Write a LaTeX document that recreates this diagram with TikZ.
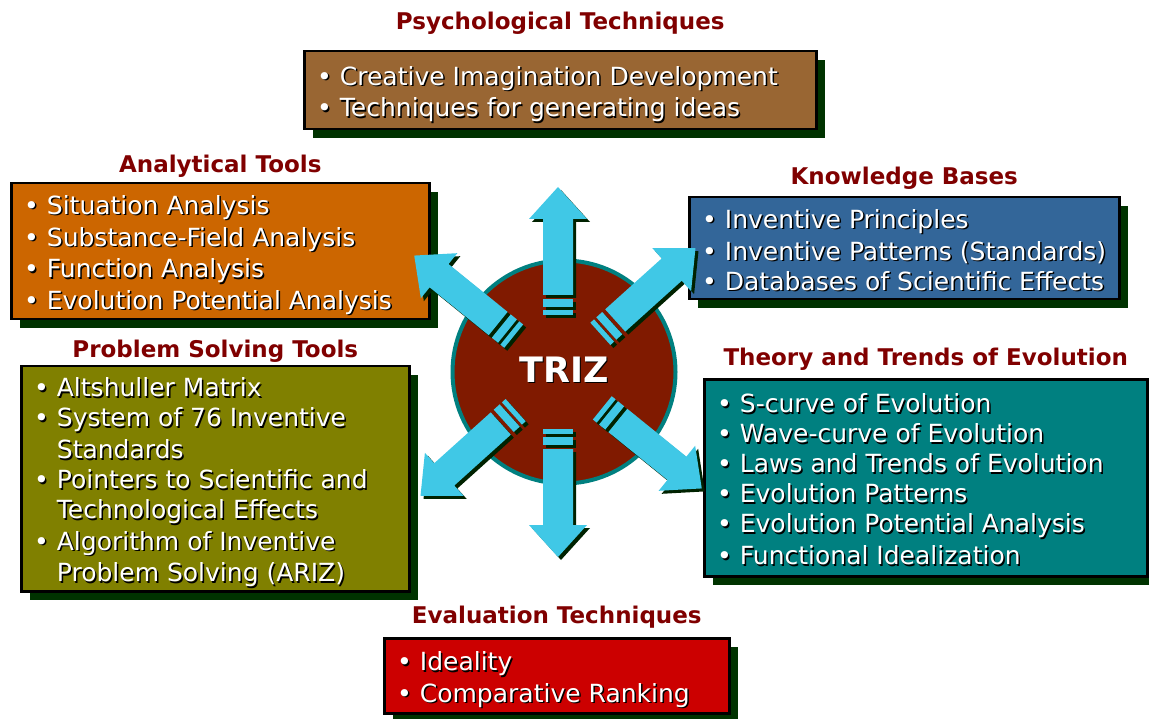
\documentclass[tikz,border=0pt]{standalone}
\usepackage{fontspec}
\setmainfont{DejaVu Sans}
\usetikzlibrary{positioning}
\usetikzlibrary{shadows}

\definecolor{titlered}{HTML}{800000}
\definecolor{boxshadow}{HTML}{003300}
\definecolor{psybrown}{HTML}{996633}
\definecolor{anaorange}{HTML}{CC6600}
\definecolor{knoblue}{HTML}{336699}
\definecolor{proolive}{HTML}{808000}
\definecolor{evoteal}{HTML}{008080}
\definecolor{evared}{HTML}{CC0000}
\definecolor{trizred}{HTML}{801A00}
\definecolor{arrcyan}{HTML}{40C8E6}
\definecolor{arrshadow}{HTML}{002200}

\newcommand{\shd}[1]{\rlap{\kern1.5pt\raisebox{-1.5pt}{\color{black}#1}}#1}
\newcommand{\bigshd}[1]{\rlap{\kern1.5pt\raisebox{-1.5pt}{\color{black}#1}}#1}
\newcommand{\lnstrut}{\rule[-6pt]{0pt}{30pt}}
\newcommand{\li}[1]{\lnstrut\shd{\textbullet\ #1}}
\newcommand{\lj}[1]{\lnstrut\hphantom{\textbullet\ }\shd{#1}}

\tikzset{
  panel/.style={draw=black, line width=2.5pt, anchor=north west, inner sep=0pt,
    drop shadow={shadow xshift=9pt, shadow yshift=-9pt, fill=boxshadow, opacity=1}},
  items/.style={text=white, align=left, inner sep=0pt, yshift=-2pt,
    font=\fontsize{25}{30}\selectfont},
  heading/.style={text=titlered, inner sep=0pt, font=\bfseries\fontsize{23}{28}\selectfont},
  hubcircle/.style={circle, fill=trizred, draw=evoteal, line width=4pt, minimum size=223pt,
    inner sep=0pt, text=white, font=\bfseries\fontsize{35}{40}\selectfont},
  pics/trizarrow/.style={code={
    \fill[#1] (57,-15) rectangle (62,15);
    \fill[#1] (65,-15) rectangle (73,15);
    \fill[#1] (77,-15) -- (153,-15) -- (153,-29) -- (185,0) -- (153,29) -- (153,15) -- (77,15) -- cycle;
  }}
}

\begin{document}
\begin{tikzpicture}[x=1pt, y=1pt]
        \useasboundingbox[fill=white] (0,0) rectangle (1149,-719);
        % Define boxes
        \node[panel, fill=psybrown, minimum width=512, minimum height=78] (psybox) at (303,-50) {};
        \node[panel, fill=anaorange, minimum width=418, minimum height=136] (anabox) at (10,-182) {};
        \node[panel, fill=knoblue, minimum width=430, minimum height=102] (knobox) at (688,-196) {};
        \node[panel, fill=proolive, minimum width=388, minimum height=225] (probox) at (20,-365) {};
        \node[panel, fill=evoteal, minimum width=443, minimum height=197] (evobox) at (703,-378) {};
        \node[panel, fill=evared, minimum width=345, minimum height=75] (evabox) at (383,-637) {};
        % Box contents
        \node[items, right=14pt of psybox.west] (psyitems) {\li{Creative Imagination Development}\\
          \li{Techniques for generating ideas}};
        \node[items, right=14pt of anabox.west] (anaitems) {\li{Situation Analysis}\\
          \li{Substance-Field Analysis}\\ \li{Function Analysis}\\
          \li{Evolution Potential Analysis}};
        \node[items, right=14pt of knobox.west] (knoitems) {\li{Inventive Principles}\\
          \li{Inventive Patterns (Standards)}\\ \li{Databases of Scientific Effects}};
        \node[items, right=14pt of probox.west] (proitems) {\li{Altshuller Matrix}\\
          \li{System of 76 Inventive}\\ \lj{Standards}\\
          \li{Pointers to Scientific and}\\ \lj{Technological Effects}\\
          \li{Algorithm of Inventive}\\ \lj{Problem Solving (ARIZ)}};
        \node[items, right=14pt of evobox.west] (evoitems) {\li{S-curve of Evolution}\\
          \li{Wave-curve of Evolution}\\ \li{Laws and Trends of Evolution}\\
          \li{Evolution Patterns}\\ \li{Evolution Potential Analysis}\\
          \li{Functional Idealization}};
        \node[items, right=14pt of evabox.west] (evaitems) {\li{Ideality}\\
          \li{Comparative Ranking}};
        % Headings
        \node[heading, above=15pt of psybox.north] (psytitle) {Psychological Techniques};
        \node[heading, above=4pt of anabox.north] (anatitle) {Analytical Tools};
        \node[heading, above=6pt of knobox.north] (knotitle) {Knowledge Bases};
        \node[heading, above=2pt of probox.north] (protitle) {Problem Solving Tools};
        \node[heading, above=7pt of evobox.north] (evotitle) {Theory and Trends of Evolution};
        \node[heading, above=9pt of evabox.north] (evatitle) {Evaluation Techniques};
        % Hub and arrows
        \node[hubcircle] (triz) at (564,-372) {\raisebox{5pt}{\bigshd{TRIZ}}};
        \coordinate (hub) at (558,-372);
        \coordinate (hubshadow) at (561,-375);
        \foreach \ang in {90,141,42,222,270,321}
          \pic[rotate=\ang] at (hubshadow) {trizarrow=arrshadow};
        \foreach \ang in {90,141,42,222,270,321}
          \pic[rotate=\ang] at (hub) {trizarrow=arrcyan};
    \end{tikzpicture}
\end{document}
